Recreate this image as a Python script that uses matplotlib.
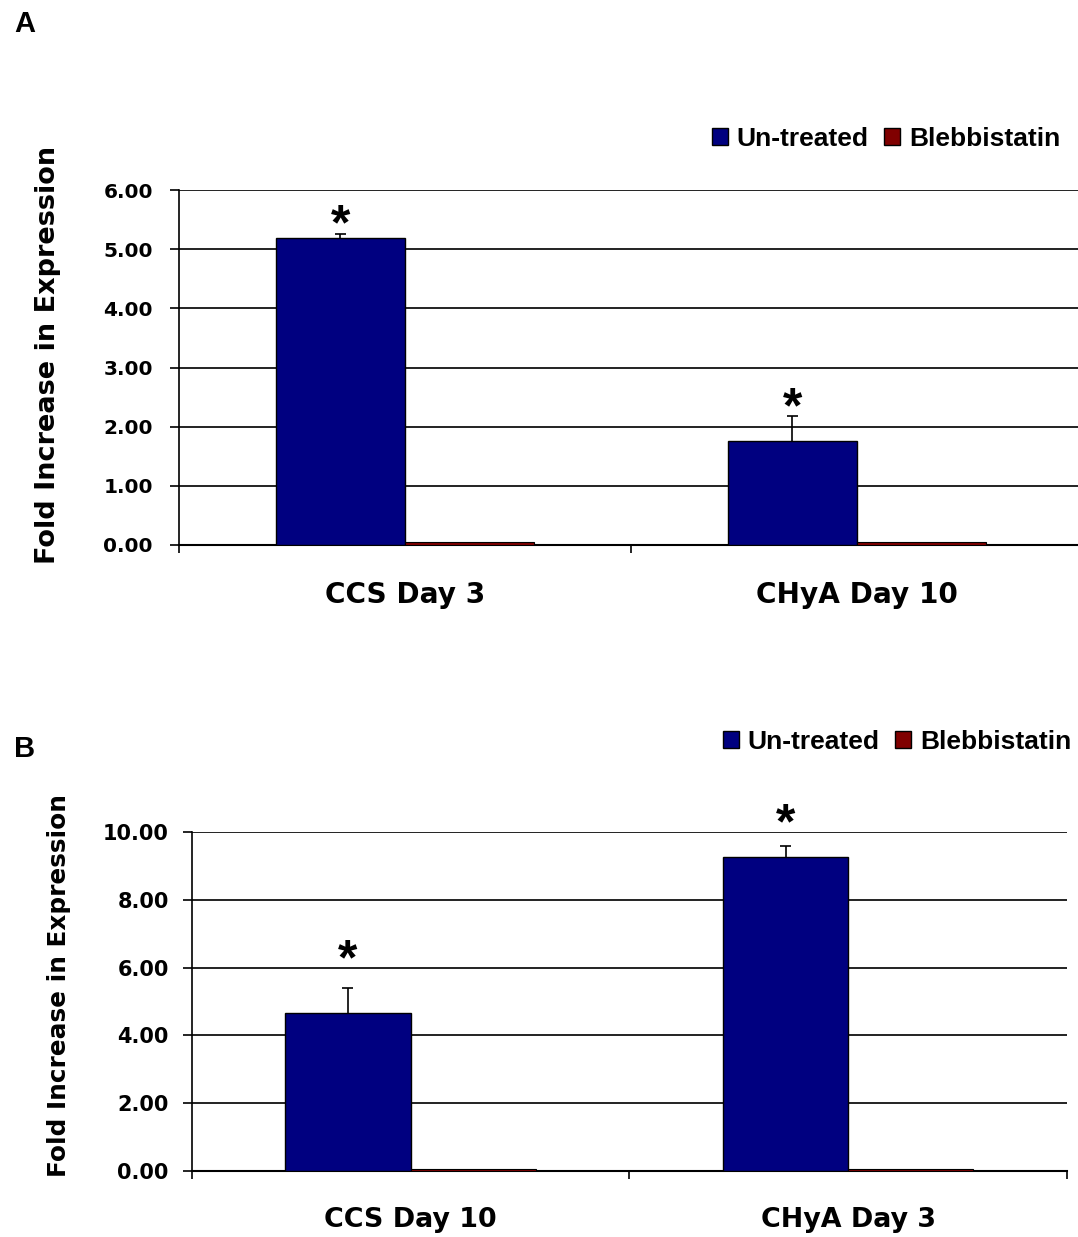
import matplotlib
matplotlib.use("Agg")
import matplotlib.pyplot as plt
from matplotlib.patches import Patch

# ---------------- data ----------------
categories_a = ["CCS Day 3", "CHyA Day 10"]
untreated_a = [5.19, 1.76]
untreated_a_err = [0.06, 0.42]
blebb_a = [0.05, 0.05]
star_y_a = [5.64, 2.55]

categories_b = ["CCS Day 10", "CHyA Day 3"]
untreated_b = [4.65, 9.27]
untreated_b_err = [0.74, 0.33]
blebb_b = [0.05, 0.05]
star_y_b = [6.65, 10.66]

yticks_a = [0, 1, 2, 3, 4, 5, 6]
yticks_b = [0, 2, 4, 6, 8, 10]
series_names = ["Un-treated", "Blebbistatin"]
colors = ["#000080", "#800000"]

W, H = 1078, 1237
DPI = 100
fig = plt.figure(figsize=(W / DPI, H / DPI), dpi=DPI)

AX_FONT = ["DejaVu Sans"]
LEG_FONT = ["Liberation Sans", "DejaVu Sans"]


def px_axes(l, t, r, b):
    return [l / W, 1 - b / H, (r - l) / W, (b - t) / H]


def draw_panel(ax, cats, unt, unt_err, bleb, stars, yticks, ymax,
               tick_fs, cat_fs, ylab_fs, ylab_xy, ypad):
    n = len(cats)
    x = list(range(n))
    bw = 0.286
    cap = 0.0125
    ax.set_axisbelow(True)
    ax.bar([xi - bw for xi in x], unt, width=bw, align="edge",
           color=colors[0], edgecolor="black", linewidth=1.0, zorder=3)
    ax.bar(x, bleb, width=bw, align="edge",
           color=colors[1], edgecolor="black", linewidth=0.8, zorder=3)
    centers = [xi - bw / 2 for xi in x]
    tops = [u + e for u, e in zip(unt, unt_err)]
    ax.vlines(centers, unt, tops, color="black", linewidth=1.2, zorder=4)
    ax.hlines(tops, [c - cap for c in centers], [c + cap for c in centers],
              color="black", linewidth=1.2, zorder=4)
    for c, sy in zip(centers, stars):
        ax.annotate("*", xy=(c, sy), xytext=(0, -0.57 * 36),
                    textcoords="offset points", ha="center", va="baseline",
                    fontsize=36, fontweight="bold", family=LEG_FONT, zorder=5,
                    annotation_clip=False)

    ax.set_xlim(-0.5, n - 0.5)
    ax.set_ylim(0, ymax)
    ax.set_yticks(yticks)
    ax.set_yticklabels([f"{v:.2f}" for v in yticks], fontsize=tick_fs,
                       fontweight="bold", family=AX_FONT)
    ax.yaxis.grid(True, color="#111111", linewidth=1.3)
    ax.tick_params(axis="y", length=6.5, width=1.2, pad=ypad, colors="black")

    ax.set_xticks(x)
    ax.set_xticklabels(cats, fontsize=cat_fs, fontweight="bold", family=AX_FONT)
    ax.set_xticks([i - 0.5 for i in range(n + 1)], minor=True)
    ax.tick_params(axis="x", which="major", length=0, pad=26)
    ax.tick_params(axis="x", which="minor", length=6, width=1.2, direction="out")

    for s in ["top", "right"]:
        ax.spines[s].set_visible(False)
    ax.spines["left"].set_linewidth(1.2)
    ax.spines["bottom"].set_linewidth(1.5)
    ax.spines["left"].set_bounds(0, ymax)

    lab = ax.set_ylabel("Fold Increase in Expression", fontsize=ylab_fs,
                        fontweight="bold", family=AX_FONT)
    lab.set_va("center")
    ax.yaxis.set_label_coords(*ylab_xy)


# ---------------- panel A ----------------
axA = fig.add_axes(px_axes(179, 190, 1083, 545))
draw_panel(axA, categories_a, untreated_a, untreated_a_err, blebb_a, star_y_a,
           yticks_a, 6, 14.5, 20.2, 19.5, (-0.145, 0.535), 12.3)

# ---------------- panel B ----------------
axB = fig.add_axes(px_axes(191.7, 832.3, 1067, 1170.7))
draw_panel(axB, categories_b, untreated_b, untreated_b_err, blebb_b, star_y_b,
           yticks_b, 10, 15, 19.4, 17.8, (-0.1516, 0.546), 10.0)
axB.spines["bottom"].set_bounds(-0.5, 1.5)

handles = [Patch(facecolor=c, edgecolor="black", linewidth=1.0) for c in colors]
for (lx, ly) in [(712, 139), (723, 742)]:
    fig.legend(handles, series_names, loc="center left",
               bbox_to_anchor=(lx / W, 1 - ly / H), ncol=2, frameon=False,
               prop={"family": LEG_FONT, "weight": "bold", "size": 19},
               handlelength=0.6, handleheight=0.6, handletextpad=0.33,
               columnspacing=0.6, borderpad=0, borderaxespad=0)

fig.text(14 / W, 1 - 31.5 / H, "A", fontsize=21, fontweight="bold",
         family=LEG_FONT, ha="left", va="baseline")
fig.text(14 / W, 1 - 757 / H, "B", fontsize=21, fontweight="bold",
         family=LEG_FONT, ha="left", va="baseline")

fig.savefig("out.png", dpi=DPI, facecolor="white")
